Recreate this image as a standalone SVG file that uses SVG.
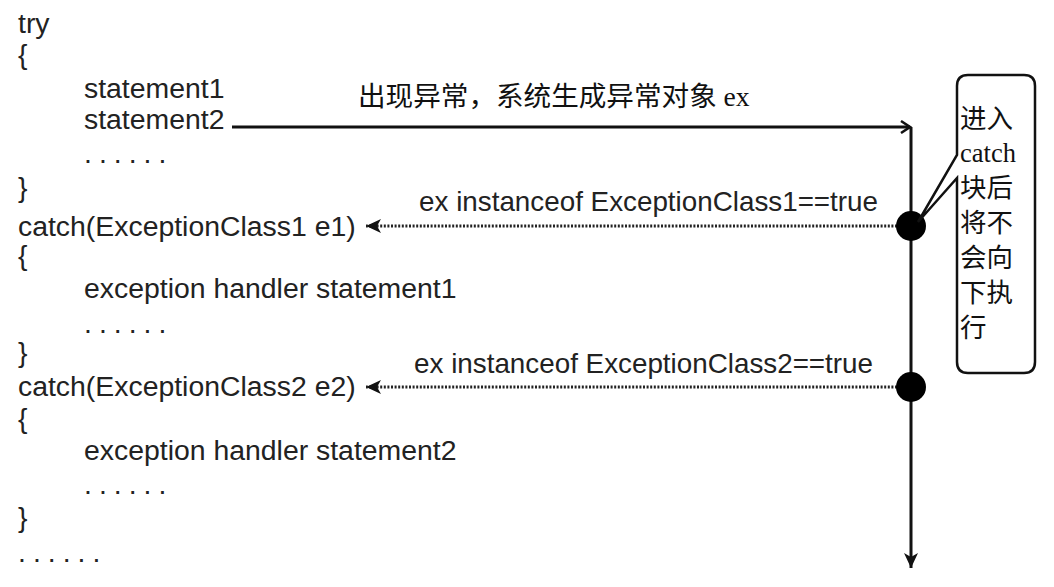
<svg xmlns="http://www.w3.org/2000/svg" width="1054" height="587" viewBox="0 0 1054 587">
<style>
.code{font-family:"Liberation Sans",Arial,sans-serif;font-size:28.4px;fill:#222;}
.dots{letter-spacing:7px;}
.lbl{font-family:"Liberation Sans",Arial,sans-serif;font-size:27.8px;fill:#222;}
.cn{font-family:"Liberation Serif","Noto Sans CJK SC",serif;font-size:27.6px;fill:#111;}
.cn2{font-family:"Liberation Serif","Noto Sans CJK SC",serif;font-size:26.5px;fill:#111;}
.solid{fill:none;stroke:#111;stroke-width:3;}
.dotted{fill:none;stroke:#222;stroke-width:3.2;stroke-dasharray:2 1.6;}
</style>
<defs>
<marker id="open" markerWidth="12" markerHeight="14" refX="10" refY="7" orient="auto" markerUnits="userSpaceOnUse">
<path d="M1,1 L10,7 L1,13" fill="none" stroke="#111" stroke-width="2.5"/>
</marker>
<marker id="fill" markerWidth="18" markerHeight="16" refX="16" refY="8" orient="auto" markerUnits="userSpaceOnUse">
<path d="M1,1 L16,8 L1,15 L5,8 Z" fill="#111"/>
</marker>
</defs>
<rect width="1054" height="587" fill="#fff"/>
<g id="code">
<text class="code" x="18" y="33">try</text>
<text class="code" x="18" y="64">{</text>
<text class="code" x="84" y="98">statement1</text>
<text class="code" x="84" y="129">statement2</text>
<text class="code dots" x="84" y="163">......</text>
<text class="code" x="18" y="197">}</text>
<text class="code" x="18" y="236">catch(ExceptionClass1 e1)</text>
<text class="code" x="18" y="265">{</text>
<text class="code" x="84" y="298">exception handler statement1</text>
<text class="code dots" x="84" y="333">......</text>
<text class="code" x="18" y="362">}</text>
<text class="code" x="18" y="396">catch(ExceptionClass2 e2)</text>
<text class="code" x="18" y="428">{</text>
<text class="code" x="84" y="460">exception handler statement2</text>
<text class="code dots" x="84" y="494">......</text>
<text class="code" x="18" y="527">}</text>
<text class="code dots" x="18" y="562">......</text>
</g>
<g id="connectors">
<path class="solid" d="M232,127 H910" marker-end="url(#open)"/>
<path class="solid" d="M911,127 V568" marker-end="url(#fill)"/>
<path class="dotted" d="M897,226 H366" marker-end="url(#fill)"/>
<path class="dotted" d="M897,387 H366" marker-end="url(#fill)"/>
</g>
<g id="labels">
<text class="cn" x="358" y="106">出现异常，系统生成异常对象 ex</text>
<text class="lbl" x="878" y="211" text-anchor="end">ex instanceof ExceptionClass1==true</text>
<text class="lbl" x="873" y="373" text-anchor="end">ex instanceof ExceptionClass2==true</text>
</g>
<g id="junction1"><circle cx="911" cy="226" r="15" fill="#000"/></g>
<g id="junction2"><circle cx="911" cy="387" r="15" fill="#000"/></g>
<g id="callout">
<path d="M968,75 H1024 Q1035,75 1035,86 V362 Q1035,373 1024,373 H968 Q957,373 957,362 V178 L918,222 L957,155 V86 Q957,75 968,75 Z" fill="#fff" stroke="#111" stroke-width="2.5"/>
<text class="cn2" x="960" y="128">进入</text>
<text class="cn2" x="960" y="162">catch</text>
<text class="cn2" x="960" y="197">块后</text>
<text class="cn2" x="960" y="232">将不</text>
<text class="cn2" x="960" y="267">会向</text>
<text class="cn2" x="960" y="302">下执</text>
<text class="cn2" x="960" y="337">行</text>
</g>
</svg>
